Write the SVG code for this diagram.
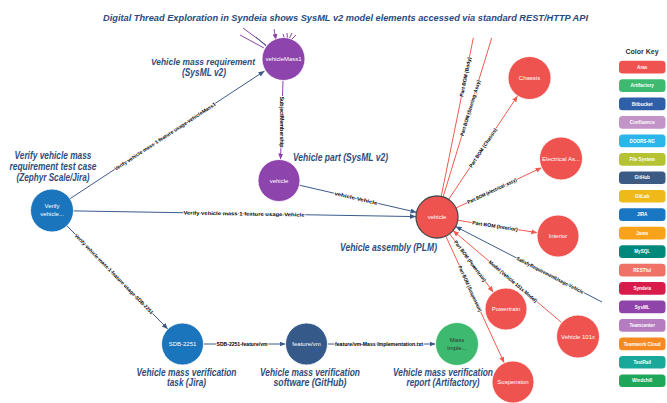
<svg xmlns="http://www.w3.org/2000/svg" width="667" height="403" viewBox="0 0 667 403">
<style>
.title{font-family:"Liberation Sans",Arial,sans-serif;font-weight:bold;font-style:italic;font-size:9.5px;fill:#2b4a7d}
.lbl{font-family:"Liberation Sans",Arial,sans-serif;font-style:italic;font-weight:bold;font-size:10.5px;fill:#2e4d7b;text-anchor:middle}
.lbs{font-size:9.5px}
.nt{font-family:"Liberation Sans",Arial,sans-serif;font-size:6px;fill:#fff;text-anchor:middle}
.el{font-family:"Liberation Sans",Arial,sans-serif;font-weight:bold;font-size:5px;fill:#000;text-anchor:middle;stroke:#fff;stroke-width:1.6px;paint-order:stroke;stroke-linejoin:round}
.ck{font-family:"Liberation Sans",Arial,sans-serif;font-weight:bold;font-size:7px;fill:#333;text-anchor:middle}
.pt{font-family:"Liberation Sans",Arial,sans-serif;font-weight:bold;font-size:4.6px;fill:#fff;text-anchor:middle}
.eb{stroke:#3a5a8c;stroke-width:1;fill:none}
.er{stroke:#f05a4f;stroke-width:1;fill:none}
.ep{stroke:#8e44ad;stroke-width:1;fill:none}
.red{fill:#ef5350;stroke:#fff;stroke-width:0.8}
.pur{fill:#8e44ad;stroke:#fff;stroke-width:0.8}
.blu{fill:#1b75bc;stroke:#fff;stroke-width:0.8}
</style>
<defs>
<marker id="ab" markerUnits="userSpaceOnUse" markerWidth="7" markerHeight="6" refX="6" refY="2.5" orient="auto"><path d="M0,0 L6,2.5 L0,5 z" fill="#3a5a8c"/></marker>
<marker id="ar" markerUnits="userSpaceOnUse" markerWidth="7" markerHeight="6" refX="6" refY="2.5" orient="auto"><path d="M0,0 L6,2.5 L0,5 z" fill="#f05a4f"/></marker>
<marker id="ap" markerUnits="userSpaceOnUse" markerWidth="7" markerHeight="6" refX="6" refY="2.5" orient="auto"><path d="M0,0 L6,2.5 L0,5 z" fill="#8e44ad"/></marker>
</defs>
<rect width="667" height="403" fill="#fff"/>
<text class="title" x="345.5" y="21" text-anchor="middle" textLength="485" lengthAdjust="spacingAndGlyphs">Digital Thread Exploration in Syndeia shows SysML v2 model elements accessed via standard REST/HTTP API</text>

<g id="connectors">
<line class="ep" x1="243" y1="28" x2="266" y2="45"/>
<line class="ep" x1="240" y1="35" x2="264" y2="48"/>
<line class="eb" x1="256" y1="37" x2="266" y2="46"/>
<line class="ep" x1="274" y1="29" x2="276" y2="40" marker-end="url(#ap)"/>
<line class="ep" x1="283" y1="34" x2="285" y2="40"/>
<line class="ep" x1="287" y1="33" x2="287.5" y2="39"/>
<line class="ep" x1="292" y1="33" x2="289" y2="39"/>
<line class="ep" x1="296" y1="35" x2="291" y2="40"/>

<line class="eb" x1="70" y1="198.7" x2="264.5" y2="71" marker-end="url(#ab)"/>
<text class="el" transform="translate(165,136.5) rotate(-33.2)" dy="1.7" textLength="120" lengthAdjust="spacingAndGlyphs">Verify vehicle mass 1 feature usage-vehicleMass1</text>

<line class="eb" x1="73.5" y1="210.9" x2="416" y2="216.6" marker-end="url(#ab)"/>
<text class="el" transform="translate(244,213.8) rotate(0.97)" dy="1.7" textLength="121" lengthAdjust="spacingAndGlyphs">Verify vehicle mass 1 feature usage-Vehicle</text>

<line class="eb" x1="299.5" y1="185.2" x2="416.5" y2="212.3" marker-end="url(#ab)"/>
<text class="el" transform="translate(356,198.3) rotate(13)" dy="1.7" textLength="44" lengthAdjust="spacingAndGlyphs">vehicle-Vehicle</text>

<line class="eb" x1="67" y1="225.9" x2="167.8" y2="329" marker-end="url(#ab)"/>
<text class="el" transform="translate(114,274) rotate(45.6)" dy="1.7" textLength="110" lengthAdjust="spacingAndGlyphs">Verify vehicle mass 1 feature usage-SDB-2251</text>

<line class="eb" x1="203.5" y1="344" x2="285.5" y2="344" marker-end="url(#ab)"/>
<text class="el" x="242" y="345.7" textLength="51" lengthAdjust="spacingAndGlyphs">SDB-2251-feature/vm</text>

<line class="eb" x1="327.5" y1="344" x2="435.5" y2="344" marker-end="url(#ab)"/>
<text class="el" x="379" y="345.7" textLength="88" lengthAdjust="spacingAndGlyphs">feature/vm-Mass Implementation.txt</text>

<line class="ep" x1="283" y1="80.5" x2="280.5" y2="159.5" marker-end="url(#ap)"/>
<text class="el" transform="translate(281.7,122) rotate(90)" dy="1.7" textLength="51" lengthAdjust="spacingAndGlyphs">SubjectMembership</text>

<line class="er" x1="441.2" y1="196.4" x2="473.3" y2="38"/>
<text class="el" transform="translate(465.4,77) rotate(-78.5)" dy="1.7" textLength="40" lengthAdjust="spacingAndGlyphs">Part BOM (Body)</text>
<line class="er" x1="443.1" y1="196.9" x2="491.7" y2="38"/>
<text class="el" transform="translate(470.3,108) rotate(-73)" dy="1.7" textLength="58" lengthAdjust="spacingAndGlyphs">Part BOM (Steering_Assy)</text>

<line class="er" x1="448.6" y1="199.5" x2="517.6" y2="95.9" marker-end="url(#ar)"/>
<text class="el" transform="translate(483,147.9) rotate(-56.3)" dy="1.7" textLength="46" lengthAdjust="spacingAndGlyphs">Part BOM (Chassis)</text>

<line class="er" x1="456" y1="208" x2="541.6" y2="167.7" marker-end="url(#ar)"/>
<text class="el" transform="translate(492,191) rotate(-25.3)" dy="1.7" textLength="54" lengthAdjust="spacingAndGlyphs">Part BOM (electrical_assy)</text>

<line class="er" x1="457.7" y1="220.3" x2="537.3" y2="232.7" marker-end="url(#ar)"/>
<text class="el" transform="translate(495,226.1) rotate(8.9)" dy="1.7" textLength="46" lengthAdjust="spacingAndGlyphs">Part BOM (Interior)</text>

<line class="er" x1="449.6" y1="233.8" x2="493.4" y2="292.2" marker-end="url(#ar)"/>
<text class="el" transform="translate(470,261) rotate(53.1)" dy="1.7" textLength="50" lengthAdjust="spacingAndGlyphs">Part BOM (Powertrain)</text>

<line class="er" x1="445.8" y1="236.1" x2="504.2" y2="362.9" marker-end="url(#ar)"/>
<text class="el" transform="translate(470,288.7) rotate(65.3)" dy="1.7" textLength="50" lengthAdjust="spacingAndGlyphs">Part BOM (Suspension)</text>

<line class="er" x1="561.6" y1="322.6" x2="453" y2="230.6" marker-end="url(#ar)"/>
<text class="el" transform="translate(513,281.4) rotate(40.3)" dy="1.7" textLength="62" lengthAdjust="spacingAndGlyphs">Model (Vehicle 101x Model)</text>

<line class="eb" x1="602" y1="302" x2="455.7" y2="226.6" marker-end="url(#ab)"/>
<text class="el" transform="translate(550,275.2) rotate(27.3)" dy="1.7" textLength="75" lengthAdjust="spacingAndGlyphs">SatisfyRequirementUsage-Vehicle</text>
</g>

<g id="node-verify">
<circle class="blu" cx="52" cy="210.5" r="21.5"/>
<text class="nt" x="52" y="208">Verify</text>
<text class="nt" x="52" y="215.5">vehicle...</text>
<text class="lbl" x="53" y="159" textLength="77" lengthAdjust="spacingAndGlyphs">Verify vehicle mass</text>
<text class="lbl" x="53" y="170" textLength="87" lengthAdjust="spacingAndGlyphs">requirement test case</text>
<text class="lbl" x="53" y="181" textLength="73" lengthAdjust="spacingAndGlyphs">(Zephyr Scale/Jira)</text>
</g>

<g id="node-vehicleMass1">
<circle class="pur" cx="283.5" cy="59" r="21.5"/>
<text class="nt" x="283.5" y="61" textLength="36" lengthAdjust="spacingAndGlyphs">vehicleMass1</text>
<text class="lbl lbs" x="203" y="64.5" textLength="104" lengthAdjust="spacingAndGlyphs">Vehicle mass requirement</text>
<text class="lbl" x="204" y="75.5" textLength="44" lengthAdjust="spacingAndGlyphs">(SysML v2)</text>
</g>

<g id="node-vehicle-part">
<circle class="pur" cx="279" cy="180.5" r="21"/>
<text class="nt" x="279" y="182.5">vehicle</text>
<text class="lbl" x="340.5" y="161" textLength="95" lengthAdjust="spacingAndGlyphs">Vehicle part (SysML v2)</text>
</g>

<g id="node-vehicle-assembly">
<circle cx="437" cy="217" r="21" fill="#ef5350" stroke="#4a4a4a" stroke-width="1.3"/>
<text class="nt" x="437" y="219">vehicle</text>
<text class="lbl" x="388.5" y="250.5" textLength="97" lengthAdjust="spacingAndGlyphs">Vehicle assembly (PLM)</text>
</g>

<g id="node-chassis">
<circle class="red" cx="529.5" cy="78" r="21.5"/>
<text class="nt" x="529.5" y="80">Chassis</text>
</g>

<g id="node-electrical">
<circle class="red" cx="561" cy="158.5" r="21.5"/>
<text class="nt" x="561" y="160.5" textLength="38" lengthAdjust="spacingAndGlyphs">Electrical As...</text>
</g>

<g id="node-interior">
<circle class="red" cx="558" cy="236" r="21"/>
<text class="nt" x="558" y="238">Interior</text>
</g>

<g id="node-powertrain">
<circle class="red" cx="506" cy="309" r="21"/>
<text class="nt" x="506" y="311">Powertrain</text>
</g>

<g id="node-vehicle101x">
<circle class="red" cx="578" cy="336.5" r="21.5"/>
<text class="nt" x="578" y="338.5">Vehicle 101x</text>
</g>

<g id="node-suspension">
<circle class="red" cx="513" cy="382" r="21"/>
<text class="nt" x="513" y="384">Suspension</text>
</g>

<g id="node-sdb2251">
<circle class="blu" cx="182.5" cy="344" r="21"/>
<text class="nt" x="182.5" y="346">SDB-2251</text>
<text class="lbl" x="186.5" y="375.5" textLength="100" lengthAdjust="spacingAndGlyphs">Vehicle mass verification</text>
<text class="lbl" x="186.5" y="386" textLength="39" lengthAdjust="spacingAndGlyphs">task (Jira)</text>
</g>

<g id="node-featurevm">
<circle cx="306.5" cy="344" r="21" fill="#355a8a" stroke="#fff" stroke-width="0.8"/>
<text class="nt" x="306.5" y="346">feature/vm</text>
<text class="lbl" x="310" y="375.5" textLength="100" lengthAdjust="spacingAndGlyphs">Vehicle mass verification</text>
<text class="lbl" x="310" y="386" textLength="73" lengthAdjust="spacingAndGlyphs">software (GitHub)</text>
</g>

<g id="node-mass-impl">
<circle cx="457" cy="344" r="21.5" fill="#3dba6f" stroke="#fff" stroke-width="0.8"/>
<text class="nt" x="457" y="342" style="fill:#333">Mass</text>
<text class="nt" x="457" y="349.5" style="fill:#333">imple...</text>
<text class="lbl" x="443" y="375.5" textLength="100" lengthAdjust="spacingAndGlyphs">Vehicle mass verification</text>
<text class="lbl" x="443" y="386" textLength="73" lengthAdjust="spacingAndGlyphs">report (Artifactory)</text>
</g>

<g id="color-key">
<text class="ck" x="642" y="54">Color Key</text>
<rect x="619" y="60.7" width="46.5" height="12.7" rx="3.5" fill="#ef5350"/><text class="pt" x="642.2" y="68.7">Aras</text>
<rect x="619" y="79.2" width="46.5" height="12.7" rx="3.5" fill="#3dba6f"/><text class="pt" x="642.2" y="87.2">Artifactory</text>
<rect x="619" y="97.6" width="46.5" height="12.7" rx="3.5" fill="#2f5fa8"/><text class="pt" x="642.2" y="105.6">Bitbucket</text>
<rect x="619" y="116.1" width="46.5" height="12.7" rx="3.5" fill="#c394c8"/><text class="pt" x="642.2" y="124.1">Confluence</text>
<rect x="619" y="134.5" width="46.5" height="12.7" rx="3.5" fill="#29b6e8"/><text class="pt" x="642.2" y="142.5">DOORS-NG</text>
<rect x="619" y="153" width="46.5" height="12.7" rx="3.5" fill="#b5c332"/><text class="pt" x="642.2" y="161">File System</text>
<rect x="619" y="171.4" width="46.5" height="12.7" rx="3.5" fill="#3b5b85"/><text class="pt" x="642.2" y="179.4">GitHub</text>
<rect x="619" y="189.9" width="46.5" height="12.7" rx="3.5" fill="#f0b91a"/><text class="pt" x="642.2" y="197.9">GitLab</text>
<rect x="619" y="208.3" width="46.5" height="12.7" rx="3.5" fill="#1976c2"/><text class="pt" x="642.2" y="216.3">JIRA</text>
<rect x="619" y="226.8" width="46.5" height="12.7" rx="3.5" fill="#f9a31b"/><text class="pt" x="642.2" y="234.8">Jama</text>
<rect x="619" y="245.2" width="46.5" height="12.7" rx="3.5" fill="#00897b"/><text class="pt" x="642.2" y="253.2">MySQL</text>
<rect x="619" y="263.7" width="46.5" height="12.7" rx="3.5" fill="#f07266"/><text class="pt" x="642.2" y="271.7">RESTful</text>
<rect x="619" y="282.1" width="46.5" height="12.7" rx="3.5" fill="#d81b4a"/><text class="pt" x="642.2" y="290.1">Syndeia</text>
<rect x="619" y="300.6" width="46.5" height="12.7" rx="3.5" fill="#8e44a8"/><text class="pt" x="642.2" y="308.6">SysML</text>
<rect x="619" y="319" width="46.5" height="12.7" rx="3.5" fill="#b57dc0"/><text class="pt" x="642.2" y="327">Teamcenter</text>
<rect x="619" y="337.5" width="46.5" height="12.7" rx="3.5" fill="#f58a23"/><text class="pt" x="642.2" y="345.5">Teamwork Cloud</text>
<rect x="619" y="355.9" width="46.5" height="12.7" rx="3.5" fill="#1aa89a"/><text class="pt" x="642.2" y="363.9">TestRail</text>
<rect x="619" y="374.4" width="46.5" height="12.7" rx="3.5" fill="#1ea75a"/><text class="pt" x="642.2" y="382.4">Windchill</text>
</g>
</svg>
